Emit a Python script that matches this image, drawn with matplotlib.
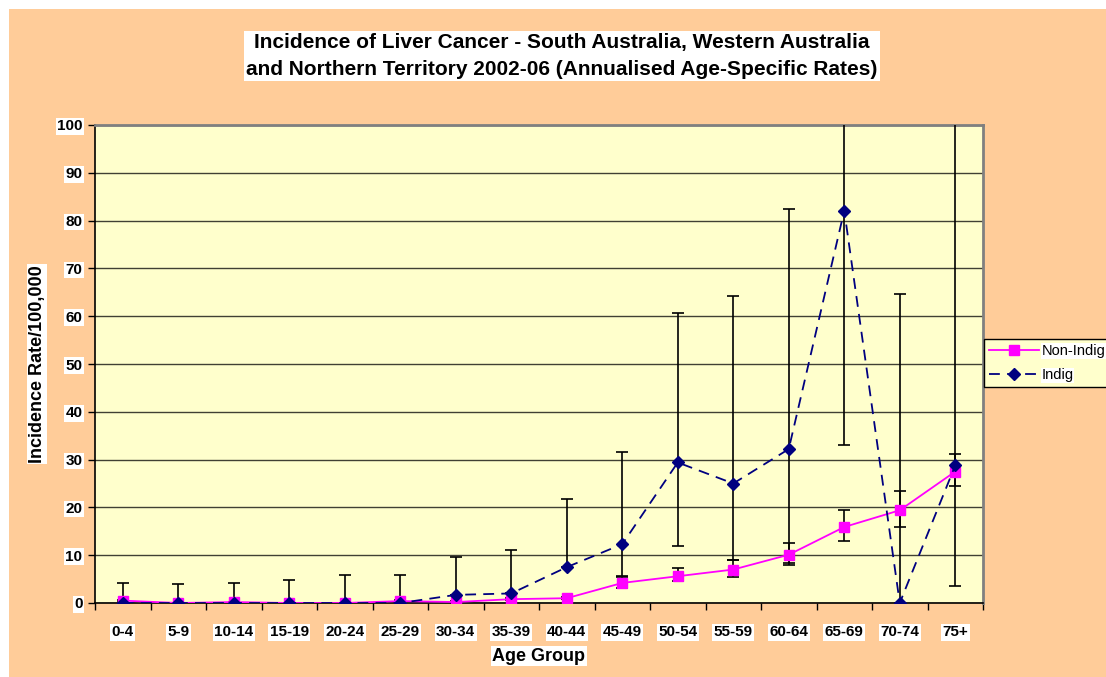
import numpy as np
import matplotlib
matplotlib.use('Agg')
import matplotlib.pyplot as plt
from matplotlib.patches import Rectangle
from matplotlib.lines import Line2D

# data
age_groups = ['0-4', '5-9', '10-14', '15-19', '20-24', '25-29', '30-34', '35-39',
              '40-44', '45-49', '50-54', '55-59', '60-64', '65-69', '70-74', '75+']

non_indig = [0.5, 0.0, 0.2, 0.0, 0.0, 0.4, 0.2, 0.8, 1.0, 4.2, 5.6, 7.0, 10.1, 15.9, 19.4, 27.5]
non_indig_low = [0.3, 0.0, 0.1, 0.0, 0.0, 0.3, 0.1, 0.6, 0.8, 3.2, 4.5, 5.5, 8.3, 13.0, 16.0, 24.5]
non_indig_high = [0.7, 0.1, 0.3, 0.1, 0.1, 0.6, 0.4, 1.0, 1.3, 5.5, 7.3, 9.0, 12.6, 19.4, 23.5, 31.1]

indig = [0.0, 0.0, 0.0, 0.0, 0.0, 0.0, 1.7, 2.0, 7.5, 12.3, 29.4, 25.0, 32.2, 82.1, 0.0, 28.8]
indig_low = [0.0, 0.0, 0.0, 0.0, 0.0, 0.0, 1.7, 2.0, 7.5, 5.6, 11.9, 9.1, 7.9, 33.0, 0.0, 3.6]
indig_high = [4.2, 3.9, 4.1, 4.8, 5.8, 5.8, 9.7, 11.1, 21.7, 31.6, 60.6, 64.2, 82.5, 160.0, 64.6, 140.0]

orange = '#FFCC99'
pale = '#FFFFCC'
plt.rcParams['font.family'] = ['Liberation Sans', 'DejaVu Sans']
plt.rcParams['font.weight'] = 'bold'

fig = plt.figure(figsize=(11.06, 6.77), dpi=100)
fig.patch.set_facecolor(orange)
# thin white border at top and left
fig.patches.append(Rectangle((0, 0), 9 / 1106, 1, transform=fig.transFigure,
                             facecolor='white', edgecolor='none', zorder=-1))
fig.patches.append(Rectangle((0, 1 - 9 / 677), 1, 9 / 677, transform=fig.transFigure,
                             facecolor='white', edgecolor='none', zorder=-1))

ax = fig.add_axes([95 / 1106, 1 - 603 / 677, (983 - 95) / 1106, (603 - 125) / 677])
ax.set_facecolor(pale)

x = np.arange(len(age_groups))

ax.errorbar(x, non_indig,
            yerr=[np.array(non_indig) - np.array(non_indig_low), np.array(non_indig_high) - np.array(non_indig)],
            fmt='none', ecolor='black', elinewidth=1.2, capsize=4, capthick=1.2, zorder=3)
ax.errorbar(x, indig,
            yerr=[np.array(indig) - np.array(indig_low), np.array(indig_high) - np.array(indig)],
            fmt='none', ecolor='black', elinewidth=1.2, capsize=4, capthick=1.2, zorder=3)

ax.plot(x, non_indig, color='#FF00FF', lw=1.3, marker='s', ms=7, mec='#FF00FF', zorder=4)
ax.plot(x, indig, color='#000080', lw=1.3, ls=(0, (6, 4)), marker='D', ms=6, zorder=5)

ax.set_xlim(-0.5, len(age_groups) - 0.5)
ax.set_ylim(0, 100)
ax.set_yticks(np.arange(0, 101, 10))
ax.yaxis.grid(True, color='black', lw=1, alpha=0.75)
ax.set_axisbelow(True)

ax.set_xticks(x)
ax.set_xticklabels(age_groups)
ax.set_xticks(np.arange(-0.5, len(age_groups)), minor=True)
ax.tick_params(axis='both', labelsize=11)
ax.tick_params(axis='x', which='major', length=0, pad=16)
ax.tick_params(axis='x', which='minor', length=5, width=1, direction='out')
ax.tick_params(axis='y', length=5, width=1, direction='out', pad=4)
for lab in ax.get_xticklabels() + ax.get_yticklabels():
    lab.set_bbox(dict(facecolor='white', edgecolor='none', pad=1))

for s in ['top', 'right']:
    ax.spines[s].set_color('#808080')
    ax.spines[s].set_linewidth(2)
ax.spines['left'].set_linewidth(1.2)
ax.spines['bottom'].set_linewidth(1.2)

ax.set_xlabel('Age Group', fontsize=13, fontweight='bold', labelpad=6,
              bbox=dict(facecolor='white', edgecolor='none', pad=1))
ax.set_ylabel('Incidence Rate/100,000', fontsize=13, fontweight='bold', labelpad=8,
              bbox=dict(facecolor='white', edgecolor='none', pad=1))

fig.text(562 / 1106, 1 - 56 / 677,
         'Incidence of Liver Cancer - South Australia, Western Australia\n'
         'and Northern Territory 2002-06 (Annualised Age-Specific Rates)',
         ha='center', va='center', fontsize=15, linespacing=1.5,
         bbox=dict(facecolor='white', edgecolor='none', pad=2))

handles = [Line2D([], [], color='#FF00FF', lw=1.3, marker='s', ms=7),
           Line2D([], [], color='#000080', lw=1.3, ls=(0, (6, 4)), marker='D', ms=6)]
leg = fig.legend(handles, ['Non-Indig', 'Indig'], loc='upper left',
                 bbox_to_anchor=(984 / 1106, 1 - 339 / 677),
                 prop={'size': 10.5, 'weight': 'normal'},
                 frameon=True, fancybox=False, edgecolor='black', facecolor=pale,
                 framealpha=1, handlelength=3.4, borderpad=0.35, labelspacing=0.7,
                 handletextpad=0.2, borderaxespad=0)
leg.get_frame().set_linewidth(1)
for t in leg.get_texts():
    t.set_bbox(dict(facecolor='white', edgecolor='none', pad=0.5))

fig.savefig('out.png', dpi=100)
